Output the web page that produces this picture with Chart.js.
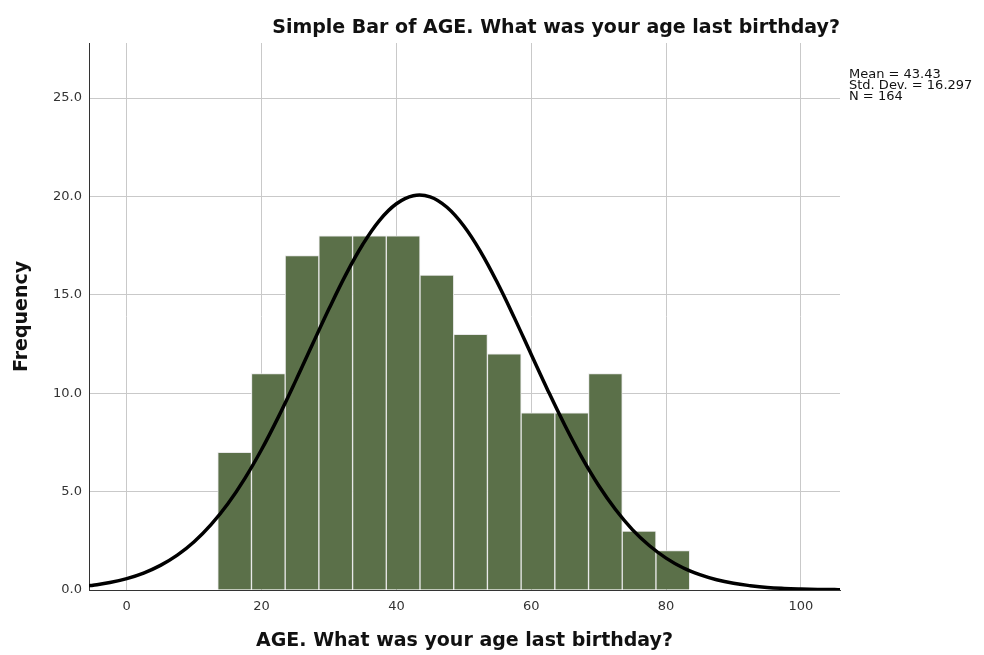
<!DOCTYPE html>
<html>
<head>
<meta charset="utf-8">
<script src="https://cdn.jsdelivr.net/npm/chart.js@4/dist/chart.umd.min.js"></script>
<style>
  html, body { margin: 0; padding: 0; background: #fff; }
  #wrap { width: 984px; height: 655px; }
</style>
</head>
<body>
<div id="wrap"><canvas id="c" width="984" height="655"></canvas></div>
<script>
// Histogram bins (mid-points of 5-year bins) and frequencies
const binMids = [16, 21, 26, 31, 36, 41, 46, 51, 56, 61, 66, 71, 76, 81];
const binCounts = [7, 11, 17, 18, 18, 18, 16, 13, 12, 9, 9, 11, 3, 2];
// Normal curve points
const curveX = [-5.6, -5, -2.5, 0, 2.5, 5, 7.5, 10, 12.5, 15, 17.5, 20, 22.5, 25, 27.5, 30, 32.5, 35, 37.5, 40, 42.5, 45, 47.5, 50, 52.5, 55, 57.5, 60, 62.5, 65, 67.5, 70, 72.5, 75, 77.5, 80, 82.5, 85, 87.5, 90, 92.5, 95, 97.5, 100, 102.5, 105, 105.8];
const curveY = [0.22, 0.24, 0.38, 0.58, 0.86, 1.25, 1.77, 2.45, 3.32, 4.38, 5.66, 7.14, 8.80, 10.59, 12.45, 14.29, 16.03, 17.56, 18.79, 19.63, 20.04, 19.98, 19.45, 18.50, 17.19, 15.60, 13.83, 11.97, 10.12, 8.36, 6.74, 5.31, 4.09, 3.07, 2.26, 1.62, 1.13, 0.78, 0.52, 0.34, 0.22, 0.13, 0.08, 0.05, 0.03, 0.02, 0.01];
// Tick labels
const xTicks = [0, 20, 40, 60, 80, 100];
const yTicks = [0, 5, 10, 15, 20, 25];
const titleText = 'Simple Bar of AGE. What was your age last birthday?';
const xTitle = 'AGE. What was your age last birthday?';
const yTitle = 'Frequency';
const statsLines = ['Mean = 43.43', 'Std. Dev. = 16.297', 'N = 164'];

const FONT = "'DejaVu Sans', sans-serif";

const statsPlugin = {
  id: 'stats',
  afterDraw(chart) {
    const ctx = chart.ctx;
    ctx.save();
    ctx.font = "13px " + FONT;
    ctx.fillStyle = '#111';
    ctx.textAlign = 'left';
    ctx.textBaseline = 'middle';
    statsLines.forEach((t, i) => ctx.fillText(t, chart.chartArea.right + 9, 75 + i * 11));
    ctx.restore();
  }
};

new Chart(document.getElementById('c'), {
  data: {
    datasets: [
      {
        type: 'line',
        order: 0,
        data: curveX.map((x, i) => ({ x: x, y: curveY[i] })),
        borderColor: '#000',
        borderWidth: 3.5,
        pointRadius: 0,
        tension: 0.4,
        fill: false
      },
      {
        type: 'bar',
        order: 1,
        data: binMids.map((x, i) => ({ x: x, y: binCounts[i] })),
        backgroundColor: '#5b7049',
        borderColor: '#e8e8e8',
        borderWidth: 1,
        barPercentage: 1,
        categoryPercentage: 1,
        grouped: false
      }
    ]
  },
  options: {
    responsive: false,
    animation: false,
    layout: { padding: { top: 0, right: 144, bottom: 0, left: 0 } },
    plugins: {
      legend: { display: false },
      tooltip: { enabled: false },
      title: {
        display: true,
        text: titleText,
        align: 'end',
        color: '#111',
        font: { family: FONT, size: 19, weight: 'bold', lineHeight: 1.2 },
        padding: { top: 16.6, bottom: 3.6 }
      }
    },
    scales: {
      x: {
        type: 'linear',
        min: -5.6,
        max: 105.8,
        offset: false,
        afterBuildTicks: s => { s.ticks = xTicks.map(v => ({ value: v })); },
        afterFit: s => { s.height = 65; },
        ticks: { color: '#333', font: { family: FONT, size: 13 }, padding: 9, maxRotation: 0 },
        grid: { color: '#c9c9c9', lineWidth: 1, drawTicks: false, offset: false },
        border: { color: '#333', width: 1 },
        title: {
          display: true, text: xTitle, color: '#111',
          font: { family: FONT, size: 19, weight: 'bold', lineHeight: 1.2 },
          padding: { top: 0, bottom: 2.6 }
        }
      },
      y: {
        min: 0,
        max: 27.8,
        afterBuildTicks: s => { s.ticks = yTicks.map(v => ({ value: v })); },
        afterFit: s => { s.width = 89; },
        ticks: { color: '#333', font: { family: FONT, size: 13 }, padding: 7, callback: v => Number(v).toFixed(1) },
        grid: { color: '#c9c9c9', lineWidth: 1, drawTicks: false, offset: false },
        border: { color: '#333', width: 1 },
        title: {
          display: true, text: yTitle, color: '#111',
          font: { family: FONT, size: 19, weight: 'bold', lineHeight: 1.2 },
          padding: { top: 10.6, bottom: 0 }
        }
      }
    }
  },
  plugins: [statsPlugin]
});
</script>
</body>
</html>
